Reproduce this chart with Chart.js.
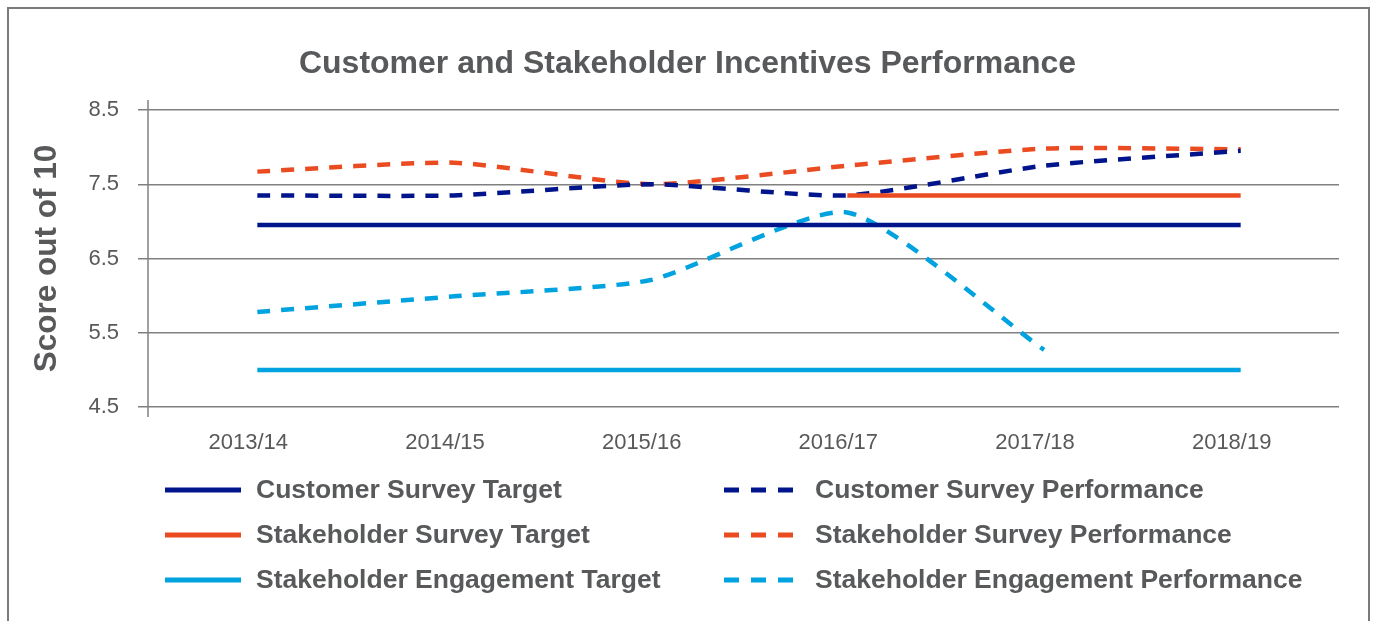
<!DOCTYPE html>
<html>
<head>
<meta charset="utf-8">
<title>Customer and Stakeholder Incentives Performance</title>
<script src="https://cdn.jsdelivr.net/npm/chart.js@4.4.0/dist/chart.umd.min.js"></script>
<style>
    html, body { margin: 0; padding: 0; background: #fff; overflow: hidden; }
    #frame {
        position: absolute; left: 7px; top: 7px; width: 1363px; height: 700px;
        border: 2px solid #7a7a7a; box-sizing: border-box;
    }
    #myChart { position: absolute; left: 0; top: 0; }
</style>
</head>
<body>
<div id="frame"></div>
<canvas id="myChart" width="1375" height="621"></canvas>
<script>
// values
const years = ['2013/14', '2014/15', '2015/16', '2016/17', '2017/18', '2018/19'];
const customerTarget = [6.95, 6.95, 6.95, 6.95, 6.95, 6.95];
const stakeholderTarget = [null, null, null, 7.35, 7.35, 7.35];
const engagementTarget = [5.0, 5.0, 5.0, 5.0, 5.0, 5.0];
const customerPerformance = [7.35, 7.35, 7.5, 7.35, 7.75, 7.95];
const stakeholderPerformance = [7.67, 7.79, 7.5, 7.75, 7.98, 7.97];
const engagementPerformance = [5.78, 5.99, 6.21, 7.12, 5.27, null];
const yTickValues = [4.5, 5.5, 6.5, 7.5, 8.5];

const NAVY = '#00148c';
const ORANGE = '#ea4b20';
const CYAN = '#00a3e0';
const TEXT = '#58595b';
const GRID = '#808080';
const FONT = "'Liberation Sans', Arial, Helvetica, sans-serif";
const DASH = [13, 11];

function solid(label, data, color) {
    return { label, data, borderColor: color, backgroundColor: color, borderWidth: 4.5, pointRadius: 0, tension: 0, dashed: false };
}

function dashed(label, data, color) {
    return { label, data, borderColor: color, backgroundColor: color, borderWidth: 4.5, borderDash: DASH, borderCapStyle: 'butt', pointRadius: 0, tension: 0.2, dashed: true };
}

// two column legend under the plot, like the original
const twoColumnLegend = {
    id: 'twoColumnLegend',
    afterDraw(chart) {
        const ctx = chart.ctx;
        const area = chart.chartArea;
        ctx.save();
        chart.data.datasets.forEach((ds, i) => {
            const col = i < 3 ? 0 : 1;
            const row = i % 3;
            const y = area.bottom + 83 + row * 45;
            const x0 = col === 0 ? 165 : 724;
            ctx.strokeStyle = ds.borderColor;
            ctx.lineWidth = 5;
            ctx.lineCap = 'butt';
            ctx.setLineDash(ds.dashed ? [15, 12] : []);
            ctx.beginPath();
            ctx.moveTo(x0, y);
            ctx.lineTo(x0 + 76, y);
            ctx.stroke();
            ctx.setLineDash([]);
            ctx.fillStyle = TEXT;
            ctx.font = 'bold 26.5px ' + FONT;
            ctx.textAlign = 'left';
            ctx.textBaseline = 'middle';
            ctx.fillText(ds.label, x0 + 91, y + 1);
        });
        ctx.restore();
    }
};

// vertical axis line, a little longer than the plot
const axisLine = {
    id: 'axisLine',
    afterDraw(chart) {
        const ctx = chart.ctx;
        const area = chart.chartArea;
        const x = area.left - 11;
        ctx.save();
        ctx.strokeStyle = GRID;
        ctx.lineWidth = 1.5;
        ctx.beginPath();
        ctx.moveTo(x, area.top - 10);
        ctx.lineTo(x, area.bottom + 10);
        ctx.stroke();
        ctx.restore();
    }
};

const ctx = document.getElementById('myChart').getContext('2d');
const chart = new Chart(ctx, {
    type: 'line',
    data: {
        labels: years,
        datasets: [
            solid('Customer Survey Target', customerTarget, NAVY),
            solid('Stakeholder Survey Target', stakeholderTarget, ORANGE),
            solid('Stakeholder Engagement Target', engagementTarget, CYAN),
            dashed('Customer Survey Performance', customerPerformance, NAVY),
            dashed('Stakeholder Survey Performance', stakeholderPerformance, ORANGE),
            dashed('Stakeholder Engagement Performance', engagementPerformance, CYAN)
        ]
    },
    options: {
        responsive: false,
        animation: false,
        layout: { padding: 0 },
        plugins: {
            legend: { display: false },
            tooltip: { enabled: false },
            title: {
                display: true,
                text: 'Customer and Stakeholder Incentives Performance',
                color: TEXT,
                font: { family: FONT, size: 32, weight: 'bold' },
                padding: { top: 45, bottom: 26.6 }
            }
        },
        scales: {
            x: {
                offset: true,
                grid: { display: false, drawTicks: false },
                border: { display: false },
                ticks: { color: TEXT, font: { family: FONT, size: 22 }, padding: 23, maxRotation: 0, labelOffset: -9 },
                afterFit: scale => { scale.height = 214; }
            },
            y: {
                min: 4.5,
                max: 8.5,
                afterBuildTicks: scale => { scale.ticks = yTickValues.map(v => ({ value: v })); },
                ticks: { color: TEXT, font: { family: FONT, size: 22 }, padding: 19, callback: v => v.toFixed(1) },
                grid: { color: GRID, lineWidth: 1.5, tickLength: 21 },
                border: { display: false },
                title: {
                    display: true,
                    text: 'Score out of 10',
                    color: TEXT,
                    font: { family: FONT, size: 31.5, weight: 'bold' },
                    padding: { top: 28, bottom: 0 }
                },
                afterFit: scale => { scale.width = 159; }
            },
            // empty right axis, only keeps the right margin so the title stays centred on the page
            yRight: {
                position: 'right',
                display: true,
                grid: { display: false, drawTicks: false },
                border: { display: false },
                ticks: { display: false },
                afterFit: scale => { scale.width = 36; }
            }
        }
    },
    plugins: [twoColumnLegend, axisLine]
});
</script>
</body>
</html>
